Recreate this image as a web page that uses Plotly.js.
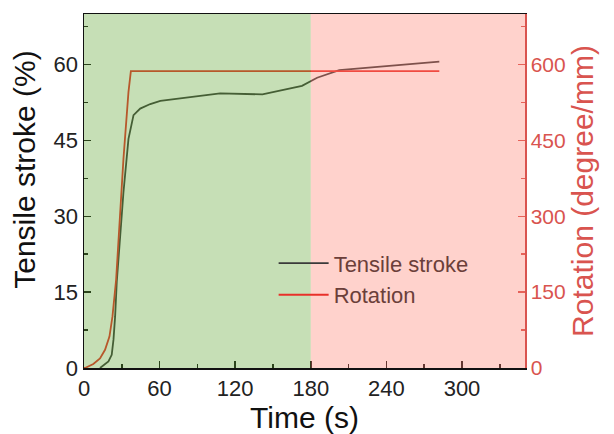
<!DOCTYPE html>
<html>
<head>
<meta charset="utf-8">
<script src="https://cdn.plot.ly/plotly-3.0.1.min.js"></script>
<style>html,body{margin:0;padding:0;background:#fff;}#chart{width:614px;height:434px;}</style>
</head>
<body>
<div id="chart"></div>
<script>
// Tensile stroke (%) vs time (s)
const timeTensile = [12.7, 19.4, 22, 23.4, 24.7, 26, 31.3, 35.3, 39.3, 44.6, 52.6, 60.6, 108, 132, 141.6, 173, 185, 202.6, 282];
const tensile     = [0,    1.3,  2.6, 5.6, 10.2, 17, 34.7, 45.3, 50,  51.3, 52.2, 52.8, 54.3, 54.1, 54.1, 55.8, 57.4, 58.9, 60.6];
// Rotation (degree/mm) vs time (s)
const timeRotation = [0, 0.8, 7.4, 12.7, 16.7, 20.2, 22.6, 24.1, 25.5, 31.3, 35.3, 37.2, 282];
const rotation     = [0, 0,   8,   19,   36,   62,   102,  142,  175,  413,  546,  587,  587];
// Shaded stages (s)
const stageStart = [0, 180];
const stageEnd   = [180, 350];
const stageColors = ['rgb(92,163,46)', 'rgb(255,126,109)'];

const font = 'Liberation Sans, Arial, sans-serif';
const red = '#d9544f';

const traces = [
  {x: timeTensile, y: tensile, name: 'Tensile stroke', mode: 'lines', line: {color: '#3a3a3a', width: 1.8}, yaxis: 'y'},
  {x: timeRotation, y: rotation, name: 'Rotation', mode: 'lines', line: {color: '#e8302a', width: 1.8}, yaxis: 'y2'}
];

const shapes = stageStart.map((s, i) => ({
  type: 'rect', xref: 'x', yref: 'paper', x0: s, x1: stageEnd[i], y0: 0, y1: 1,
  fillcolor: stageColors[i], opacity: 0.35, line: {width: 0}, layer: 'above'
}));

const layout = {
  width: 614, height: 434,
  margin: {l: 84, r: 89, t: 14, b: 66},
  paper_bgcolor: '#fff', plot_bgcolor: '#fff',
  font: {family: font, size: 22, color: '#222'},
  showlegend: true,
  legend: {x: 0.43, y: 0.355, xanchor: 'left', yanchor: 'top', bgcolor: 'rgba(0,0,0,0)',
           itemwidth: 50, font: {family: font, size: 22, color: '#6b3f3a'}, tracegroupgap: 0},
  xaxis: {range: [0, 350], dtick: 60, tick0: 0, ticks: 'inside', ticklen: 7, tickwidth: 1.5,
          tickcolor: '#111', showline: true, linecolor: '#111', linewidth: 1.5, mirror: true,
          showgrid: false, zeroline: false, tickfont: {size: 22, color: '#222'},
          minor: {ticks: 'inside', ticklen: 4, dtick: 30, tickcolor: '#111', showgrid: false},
          title: {text: 'Time (s)', font: {size: 30, color: '#111'}, standoff: 0}},
  yaxis: {range: [0, 70], dtick: 15, tick0: 0, ticks: 'inside', ticklen: 7, tickwidth: 1.5,
          tickcolor: '#111', showline: true, linecolor: '#111', linewidth: 1.5,
          showgrid: false, zeroline: false, tickfont: {size: 22, color: '#222'},
          minor: {ticks: 'inside', ticklen: 4, dtick: 7.5, tickcolor: '#111', showgrid: false}},
  yaxis2: {overlaying: 'y', side: 'right', range: [0, 700], dtick: 150, tick0: 0,
           ticks: 'inside', ticklen: 7, tickwidth: 1.5, tickcolor: red,
           showline: true, linecolor: red, linewidth: 1.5, showgrid: false, zeroline: false,
           tickfont: {size: 21, color: red},
           minor: {ticks: 'inside', ticklen: 4, dtick: 75, tickcolor: red, showgrid: false},
           title: {text: 'Rotation (degree/mm)', font: {size: 30, color: red}, standoff: 4}},
  annotations: [{text: 'Tensile stroke (%)', xref: 'paper', yref: 'paper', x: 0, y: 0.56,
                 xanchor: 'center', yanchor: 'middle', xshift: -59, textangle: -90, showarrow: false,
                 font: {size: 30, color: '#111'}}],
  shapes: shapes
};

Plotly.newPlot('chart', traces, layout, {displayModeBar: false, staticPlot: true});
</script>
</body>
</html>
